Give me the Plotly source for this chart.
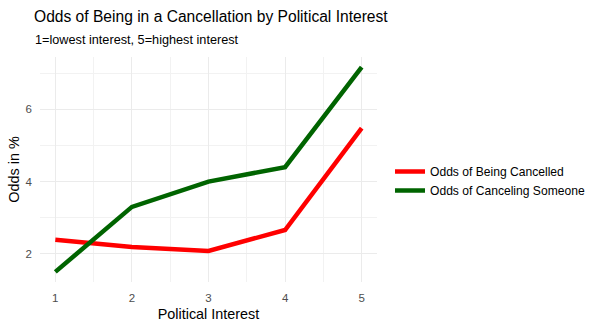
import plotly.graph_objects as go

interest = [1, 2, 3, 4, 5]
odds_cancelled = [2.39, 2.19, 2.08, 2.66, 5.48]
odds_canceling = [1.50, 3.30, 4.00, 4.40, 7.17]
series_names = ["Odds of Being Cancelled", "Odds of Canceling Someone"]
colors = ["#FF0000", "#006400"]

FONT = "Liberation Sans, Arial, sans-serif"

fig = go.Figure()
for name, vals, col in zip(series_names, [odds_cancelled, odds_canceling], colors):
    fig.add_trace(go.Scatter(x=interest, y=vals, mode="lines", name=name,
                             line=dict(color=col, width=4.5)))

fig.update_layout(
    width=604, height=328,
    margin=dict(l=40, r=227, t=57, b=46),
    paper_bgcolor="white", plot_bgcolor="white",
    font=dict(family=FONT, color="black"),
    title=dict(text="Odds of Being in a Cancellation by Political Interest",
               x=34/604, xref="container", xanchor="left",
               y=1-16.5/328, yref="container", yanchor="middle",
               font=dict(size=15.6, color="black")),
    annotations=[dict(text="1=lowest interest, 5=highest interest",
                      xref="paper", yref="paper", x=-7/337, xanchor="left",
                      y=(282-40)/225, yanchor="middle", showarrow=False,
                      font=dict(size=12.7, color="black"))],
    legend=dict(x=(390-40)/337, xanchor="left", y=(282-181)/225, yanchor="middle",
                font=dict(size=12.1, color="black"), bgcolor="rgba(0,0,0,0)",
                itemwidth=30, borderwidth=0),
    showlegend=True,
)
fig.update_xaxes(range=[0.8, 5.2], tickmode="array", tickvals=interest,
                 ticktext=[str(v) for v in interest],
                 showgrid=True, gridcolor="#EBEBEB", gridwidth=1,
                 minor=dict(tickmode="array", tickvals=[1.5, 2.5, 3.5, 4.5],
                            showgrid=True, gridcolor="#F2F2F2", gridwidth=1),
                 zeroline=False, showline=False, ticks="", automargin=False,
                 ticklabelstandoff=7,
                 tickfont=dict(size=11.5, color="#4D4D4D"),
                 title=dict(text="Political Interest", font=dict(size=14.4, color="black"),
                            standoff=6))
fig.update_yaxes(range=[1.22, 7.45], tickmode="array", tickvals=[2, 4, 6],
                 ticktext=["2", "4", "6"],
                 showgrid=True, gridcolor="#EBEBEB", gridwidth=1,
                 minor=dict(tickmode="array", tickvals=[3, 5, 7],
                            showgrid=True, gridcolor="#F2F2F2", gridwidth=1),
                 zeroline=False, showline=False, ticks="", automargin=False,
                 ticklabelstandoff=7,
                 tickfont=dict(size=11.5, color="#4D4D4D"),
                 title=dict(text="Odds in %", font=dict(size=14.4, color="black"),
                            standoff=2))

fig.write_html("out.html")
